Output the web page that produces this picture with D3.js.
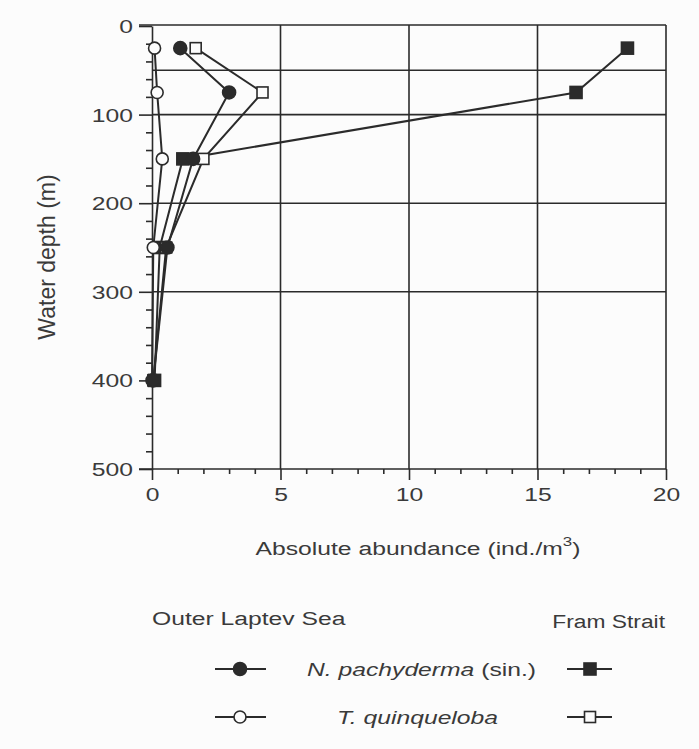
<!DOCTYPE html>
<html>
<head>
<meta charset="utf-8">
<script src="https://cdn.jsdelivr.net/npm/d3@7"></script>
<style>
  html, body { margin: 0; padding: 0; background: #fcfcfc; }
  svg { display: block; font-family: "Liberation Sans", Arial, Helvetica, sans-serif; }
  .axis path, .axis line { stroke: #2b2b2b; stroke-width: 1.6; }
  .grid line { stroke: #2b2b2b; stroke-width: 1.6; }
  .series { fill: none; stroke: #2b2b2b; stroke-width: 2; }
  text { fill: #3a3a3a; }
</style>
</head>
<body>
<svg id="chart" width="699" height="749"></svg>
<script>
// sampling depths (midpoints of net intervals), m
const depths = [25, 75, 150, 250, 400];
// interval boundaries drawn as horizontal lines
const depthBoundaries = [50, 100, 200, 300];

// absolute abundance, ind./m3
const laptevPachyderma = [1.1, 3.0, 1.6, 0.6, 0.05];
const laptevQuinqueloba = [0.1, 0.2, 0.4, 0.05, 0.0];
const framPachyderma = [18.5, 16.5, 1.2, 0.3, 0.1];
const framQuinqueloba = [1.7, 4.3, 2.0, 0.55, 0.05];

const xTicks = [0, 5, 10, 15, 20];
const yTicks = [0, 100, 200, 300, 400, 500];

const regionLabels = ["Outer Laptev Sea", "Fram Strait"];
const speciesLabels = [
  { italic: "N. pachyderma", plain: " (sin.)" },
  { italic: "T. quinqueloba", plain: "" }
];

const series = [
  { name: "Fram N. pachyderma", values: framPachyderma, marker: "square", filled: true },
  { name: "Fram T. quinqueloba", values: framQuinqueloba, marker: "square", filled: false },
  { name: "Laptev T. quinqueloba", values: laptevQuinqueloba, marker: "circle", filled: false },
  { name: "Laptev N. pachyderma", values: laptevPachyderma, marker: "circle", filled: true }
];

const SX = 1.3; // the scanned lettering is wide
const svg = d3.select("#chart");

const x = d3.scaleLinear().domain([0, 20]).range([152, 666]);
const y = d3.scaleLinear().domain([0, 500]).range([26, 469]);

function drawMarker(g, type, filled, cx, cy) {
  const fill = filled ? "#2b2b2b" : "#fcfcfc";
  if (type === "circle") {
    g.append("circle").attr("cx", cx).attr("cy", cy).attr("r", filled ? 6.5 : 6)
      .attr("fill", fill).attr("stroke", "#2b2b2b").attr("stroke-width", 1.6);
  } else {
    const s = filled ? 12 : 11;
    g.append("rect").attr("x", cx - s / 2).attr("y", cy - s / 2).attr("width", s).attr("height", s)
      .attr("fill", fill).attr("stroke", "#2b2b2b").attr("stroke-width", 1.6);
  }
}

function addText(px, py, anchor, size, sx = SX) {
  return svg.append("text")
    .attr("transform", `translate(${px},${py}) scale(${sx},1)`)
    .attr("text-anchor", anchor)
    .style("font-size", size + "px");
}

// grid: vertical lines, frame and depth boundaries
const grid = svg.append("g").attr("class", "grid");
grid.selectAll(".v").data(xTicks.slice(1)).enter().append("line")
  .attr("x1", d => x(d)).attr("x2", d => x(d))
  .attr("y1", y(0) - 1).attr("y2", y(500));
grid.append("line").attr("x1", x(0) - 13).attr("x2", x(20)).attr("y1", y(0) - 1).attr("y2", y(0) - 1);
grid.selectAll(".h").data(depthBoundaries).enter().append("line")
  .attr("x1", x(0)).attr("x2", x(20))
  .attr("y1", d => y(d)).attr("y2", d => y(d));

// y axis
const yAxis = svg.append("g").attr("class", "axis").attr("transform", `translate(${x(0)},0)`)
  .call(d3.axisLeft(y).tickValues(yTicks).tickSize(13).tickSizeOuter(0));
yAxis.selectAll("text")
  .attr("x", null).attr("dy", "0.34em")
  .attr("transform", `translate(-19,0) scale(${SX},1)`)
  .style("font-size", "19px").style("font-family", "inherit").attr("fill", "#3a3a3a");
svg.append("g").attr("class", "axis").attr("transform", `translate(${x(0)},0)`)
  .call(d3.axisLeft(y).tickValues(d3.range(20, 500, 20).filter(v => v % 100 !== 0))
    .tickSize(6).tickSizeOuter(0).tickFormat(""))
  .select(".domain").remove();

// x axis
const xAxis = svg.append("g").attr("class", "axis").attr("transform", `translate(0,${y(500)})`)
  .call(d3.axisBottom(x).tickValues(xTicks).tickSize(11).tickSizeOuter(0));
xAxis.select(".domain").attr("d", `M${x(0) - 13},0H${x(20)}`);
xAxis.selectAll("text")
  .attr("y", 32).attr("dy", null)
  .attr("transform", `scale(${SX},1)`)
  .style("font-size", "19px").style("font-family", "inherit").attr("fill", "#3a3a3a");
svg.append("g").attr("class", "axis").attr("transform", `translate(0,${y(500)})`)
  .call(d3.axisBottom(x).tickValues(d3.range(1, 20).filter(v => v % 5 !== 0))
    .tickSize(5).tickSizeOuter(0).tickFormat(""))
  .select(".domain").remove();

// axis titles
svg.append("text")
  .attr("transform", "translate(55,257) rotate(-90)")
  .attr("text-anchor", "middle")
  .style("font-size", "23px")
  .text("Water depth (m)");

const xt = addText(418, 555, "middle", 19);
xt.append("tspan").text("Absolute abundance (ind./m");
xt.append("tspan").attr("dy", -9).style("font-size", "13px").text("3");
xt.append("tspan").attr("dy", 9).text(")");

// profiles
const line = d3.line().x(d => x(d.v)).y(d => y(d.depth));
series.forEach(s => {
  const pts = s.values.map((v, i) => ({ v: v, depth: depths[i] }));
  const g = svg.append("g");
  g.append("path").datum(pts).attr("class", "series").attr("d", line);
  pts.forEach(p => drawMarker(g, s.marker, s.filled, x(p.v), y(p.depth)));
});

// legend
addText(152, 625, "start", 19).text(regionLabels[0]);
addText(665, 628, "end", 19, 1.2).text(regionLabels[1]);

const legendRows = [669, 717];
const legendTextX = [307, 337];
speciesLabels.forEach((sp, i) => {
  const ly = legendRows[i];
  const g = svg.append("g");
  g.append("line").attr("x1", 215).attr("x2", 266).attr("y1", ly).attr("y2", ly)
    .attr("stroke", "#2b2b2b").attr("stroke-width", 2);
  drawMarker(g, "circle", i === 0, 240, ly);
  g.append("line").attr("x1", 567).attr("x2", 612).attr("y1", ly).attr("y2", ly)
    .attr("stroke", "#2b2b2b").attr("stroke-width", 2);
  drawMarker(g, "square", i === 0, 590, ly);

  const t = addText(legendTextX[i], ly + 7, "start", 19);
  t.append("tspan").style("font-style", "italic").text(sp.italic);
  if (sp.plain) t.append("tspan").text(sp.plain);
});
</script>
</body>
</html>
